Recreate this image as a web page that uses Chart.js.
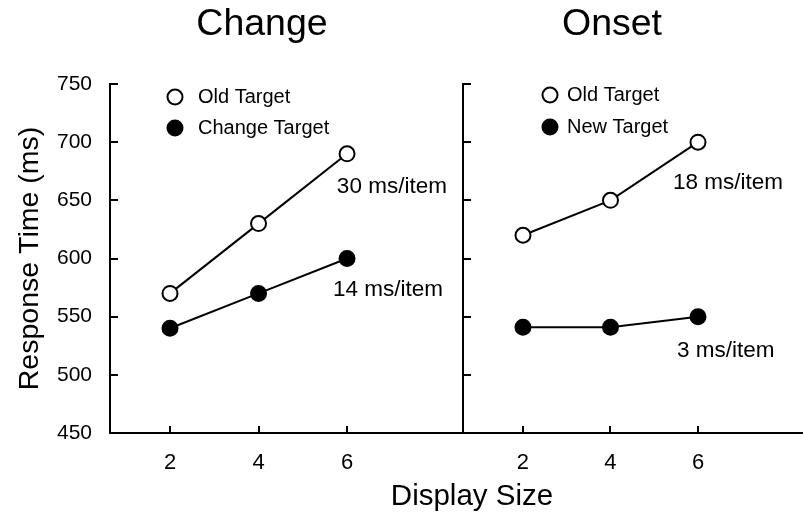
<!DOCTYPE html>
<html>
<head>
<meta charset="utf-8">
<script src="https://cdn.jsdelivr.net/npm/chart.js@4/dist/chart.umd.min.js"></script>
<style>
  body { margin: 0; background: #fff; overflow: hidden; }
  #wrap { position: relative; width: 803px; height: 516px; }
  canvas { position: absolute; top: 0; }
  #changeChart { left: 0; }
  #onsetChart { left: 421px; }
  #xTitle {
    position: absolute; left: 372px; top: 478px; width: 200px;
    text-align: center; font: 29.5px 'Liberation Sans', Arial, Helvetica, sans-serif;
    line-height: 34px; color: #000;
  }
</style>
</head>
<body>
<div id="wrap">
  <canvas id="changeChart" width="524" height="516"></canvas>
  <canvas id="onsetChart" width="382" height="516"></canvas>
  <div id="xTitle">Display Size</div>
</div>
<script>
// dados
const displaySizes = [2, 4, 6];
const yTicks = [450, 500, 550, 600, 650, 700, 750];

const changeOld = [570, 630, 690];
const changeTarget = [540, 570, 600];
const changeNotes = ["30 ms/item", "14 ms/item"];

const onsetOld = [620, 650, 700];
const onsetNew = [541, 541, 550];
const onsetNotes = ["18 ms/item", "3 ms/item"];

const FONT = "'Liberation Sans', Arial, Helvetica, sans-serif";
Chart.defaults.font.family = FONT;
Chart.defaults.color = "#000";

const charts = [];

// marcas de escala para dentro, legenda e anotações de inclinação
const panelDecor = {
  id: "panelDecor",
  afterDraw(chart, args, opts) {
    const { ctx, chartArea: a, scales: { x, y } } = chart;
    ctx.save();
    ctx.strokeStyle = "#000";
    ctx.lineWidth = 2;
    ctx.beginPath();
    y.ticks.forEach((t) => {
      const py = Math.round(y.getPixelForValue(t.value));
      ctx.moveTo(a.left, py);
      ctx.lineTo(a.left + 8, py);
    });
    x.ticks.forEach((t) => {
      const px = Math.round(x.getPixelForValue(t.value));
      ctx.moveTo(px, a.bottom);
      ctx.lineTo(px, a.bottom - 7);
    });
    ctx.stroke();

    ctx.textBaseline = "middle";
    ctx.textAlign = "left";
    ctx.font = "20px " + FONT;
    chart.data.datasets.forEach((ds, i) => {
      const cy = a.top + opts.legendY[i];
      ctx.beginPath();
      ctx.arc(a.left + opts.legendMarkerX, cy, 7.5, 0, Math.PI * 2);
      ctx.fillStyle = ds.pointBackgroundColor;
      ctx.fill();
      ctx.stroke();
      ctx.fillStyle = "#000";
      ctx.fillText(ds.label, a.left + opts.legendTextX, cy);
    });

    ctx.font = "22.5px " + FONT;
    opts.notes.forEach((text, i) => {
      const [vx, vy] = opts.noteAt[i];
      ctx.fillText(text, x.getPixelForValue(vx), y.getPixelForValue(vy));
    });
    ctx.restore();
  },
};

function series(label, values, filled) {
  return {
    label,
    data: displaySizes.map((s, i) => ({ x: s, y: values[i] })),
    borderColor: "#000",
    borderWidth: 2,
    pointRadius: 7.5,
    pointBorderWidth: 2,
    pointBorderColor: "#000",
    pointBackgroundColor: filled ? "#000" : "#fff",
    showLine: true,
    tension: 0,
  };
}

function panel(canvasId, title, datasets, cfg) {
  const ctx = document.getElementById(canvasId).getContext("2d");
  const chart = new Chart(ctx, {
    type: "line",
    data: { datasets },
    plugins: [panelDecor],
    options: {
      responsive: false,
      animation: false,
      devicePixelRatio: 1,
      layout: { autoPadding: false, padding: 0 },
      scales: {
        x: {
          type: "linear",
          min: cfg.xMin,
          max: cfg.xMax,
          grid: { display: false, drawTicks: false },
          border: { display: true, color: "#000", width: 2 },
          ticks: { font: { size: 22 }, padding: 17 },
          afterBuildTicks: (s) => { s.ticks = displaySizes.map((v) => ({ value: v })); },
          afterFit: (s) => { s.height = 83; },
        },
        y: {
          min: 450,
          max: 750,
          grid: { display: false, drawTicks: false },
          border: { display: true, color: "#000", width: 2 },
          ticks: { display: cfg.yLabels, font: { size: 21 }, padding: 18 },
          afterBuildTicks: (s) => { s.ticks = yTicks.map((v) => ({ value: v })); },
          title: {
            display: cfg.yLabels,
            text: "Response Time (ms)",
            font: { size: 28.5 },
            padding: { top: 13, bottom: 0 },
          },
          afterFit: (s) => { s.width = cfg.yWidth; },
        },
        // eixo vazio só para reservar espaço à direita e centrar o título
        spacer: {
          position: "right",
          display: cfg.spacer > 0,
          grid: { display: false, drawTicks: false },
          border: { display: false },
          ticks: { display: false },
          afterFit: (s) => { s.width = cfg.spacer; },
        },
      },
      plugins: {
        legend: { display: false },
        tooltip: { enabled: false },
        title: {
          display: true,
          text: title,
          font: { size: 37.5, weight: "normal" },
          padding: { top: 2, bottom: 37 },
        },
        panelDecor: cfg.decor,
      },
    },
  });
  charts.push(chart);
}

panel("changeChart", "Change",
  [series("Old Target", changeOld, false), series("Change Target", changeTarget, true)],
  {
    spacer: 61, yWidth: 110, yLabels: true, xMin: 0.644, xMax: 8.62,
    decor: { legendMarkerX: 65, legendTextX: 88, legendY: [13, 44],
             notes: changeNotes, noteAt: [[5.77, 661.5], [5.68, 573]] },
  });

panel("onsetChart", "Onset",
  [series("Old Target", onsetOld, false), series("New Target", onsetNew, true)],
  {
    spacer: 0, yWidth: 42, yLabels: false, xMin: 0.629, xMax: 8.4,
    decor: { legendMarkerX: 87, legendTextX: 104, legendY: [11, 43],
             notes: onsetNotes, noteAt: [[5.43, 665], [5.52, 521]] },
  });
</script>
</body>
</html>
